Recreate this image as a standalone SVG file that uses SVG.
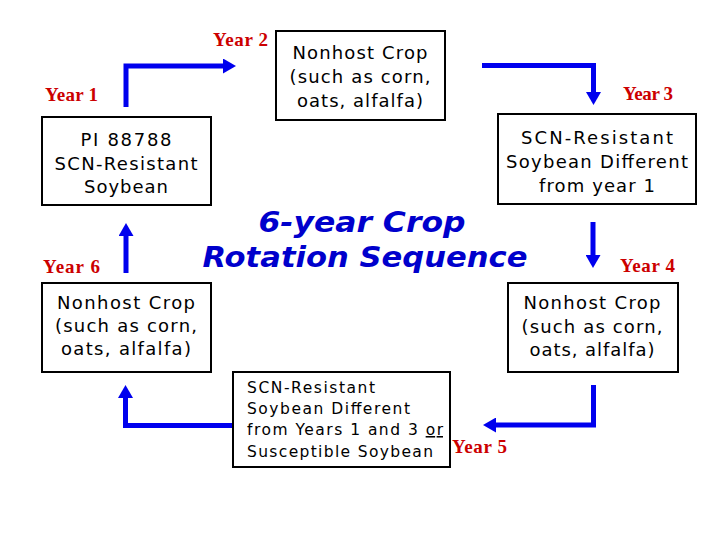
<svg xmlns="http://www.w3.org/2000/svg" width="720" height="540" viewBox="0 0 720 540">
<style>
.box{fill:#fff;stroke:#000;stroke-width:2}
.t{font-family:"DejaVu Sans","Verdana",sans-serif;font-size:18px;fill:#000;text-anchor:middle}
.t5{font-family:"DejaVu Sans","Verdana",sans-serif;font-size:15.5px;fill:#000}
.yr{font-family:"Liberation Serif","Times New Roman",serif;font-weight:bold;font-size:19px;fill:#cc0000}
.title{font-family:"DejaVu Sans","Verdana",sans-serif;font-weight:bold;font-style:italic;font-size:29px;fill:#0000cc;text-anchor:middle}
.arr{fill:none;stroke:#0000ee;stroke-width:5;stroke-linejoin:miter;marker-end:url(#ah)}
</style>
<defs>
<marker id="ah" markerUnits="userSpaceOnUse" markerWidth="13" markerHeight="15" viewBox="0 0 13 15" refX="0" refY="7.5" orient="auto">
<path d="M0,0 L13,7.5 L0,15 z" fill="#0000ee"/>
</marker>
</defs>
<rect width="720" height="540" fill="#fff"/>
<g id="title">
<text class="title" x="362" y="232" textLength="207" lengthAdjust="spacingAndGlyphs">6-year Crop</text>
<text class="title" x="365" y="267" textLength="325" lengthAdjust="spacingAndGlyphs">Rotation Sequence</text>
</g>
<g id="connectors">
<path class="arr" d="M126,107 V66 H223"/>
<path class="arr" d="M482,65.5 H593.5 V92"/>
<path class="arr" d="M593,222 V255"/>
<path class="arr" d="M593.5,385 V425 H496"/>
<path class="arr" d="M233,425.5 H125.5 V398"/>
<path class="arr" d="M126,273 V236"/>
</g>
<g id="year1">
<text class="yr" x="45" y="101" textLength="53">Year 1</text>
<rect class="box" x="42" y="117" width="169" height="88"/>
<text class="t" x="126" y="146" textLength="91">PI 88788</text>
<text class="t" x="126" y="170" textLength="143">SCN-Resistant</text>
<text class="t" x="126" y="193" textLength="84">Soybean</text>
</g>
<g id="year2">
<text class="yr" x="213" y="46" textLength="55">Year 2</text>
<rect class="box" x="276" y="31" width="169" height="89"/>
<text class="t" x="360" y="59" textLength="135">Nonhost Crop</text>
<text class="t" x="360" y="83" textLength="141">(such as corn,</text>
<text class="t" x="360" y="107" textLength="126">oats, alfalfa)</text>
</g>
<g id="year3">
<text class="yr" x="623" y="100" textLength="50">Year 3</text>
<rect class="box" x="498" y="114" width="198" height="90"/>
<text class="t" x="597" y="144" textLength="152">SCN-Resistant</text>
<text class="t" x="597" y="168" textLength="182">Soybean Different</text>
<text class="t" x="597" y="192" textLength="116">from year 1</text>
</g>
<g id="year4">
<text class="yr" x="620" y="272" textLength="55">Year 4</text>
<rect class="box" x="508" y="283" width="170" height="89"/>
<text class="t" x="592" y="309" textLength="137">Nonhost Crop</text>
<text class="t" x="592" y="333" textLength="141">(such as corn,</text>
<text class="t" x="592" y="356" textLength="125">oats, alfalfa)</text>
</g>
<g id="year5">
<rect class="box" x="233" y="372" width="217" height="95"/>
<text class="t5" x="247" y="393" textLength="128">SCN-Resistant</text>
<text class="t5" x="247" y="414" textLength="163">Soybean Different</text>
<text class="t5" x="247" y="435" textLength="196">from Years 1 and 3 <tspan text-decoration="underline">or</tspan></text>
<text class="t5" x="247" y="457" textLength="186">Susceptible Soybean</text>
<text class="yr" x="452" y="453" textLength="55">Year 5</text>
</g>
<g id="year6">
<text class="yr" x="43" y="273" textLength="57">Year 6</text>
<rect class="box" x="42" y="283" width="169" height="89"/>
<text class="t" x="126" y="309" textLength="138">Nonhost Crop</text>
<text class="t" x="126" y="332" textLength="142">(such as corn,</text>
<text class="t" x="126" y="355" textLength="130">oats, alfalfa)</text>
</g>
</svg>
